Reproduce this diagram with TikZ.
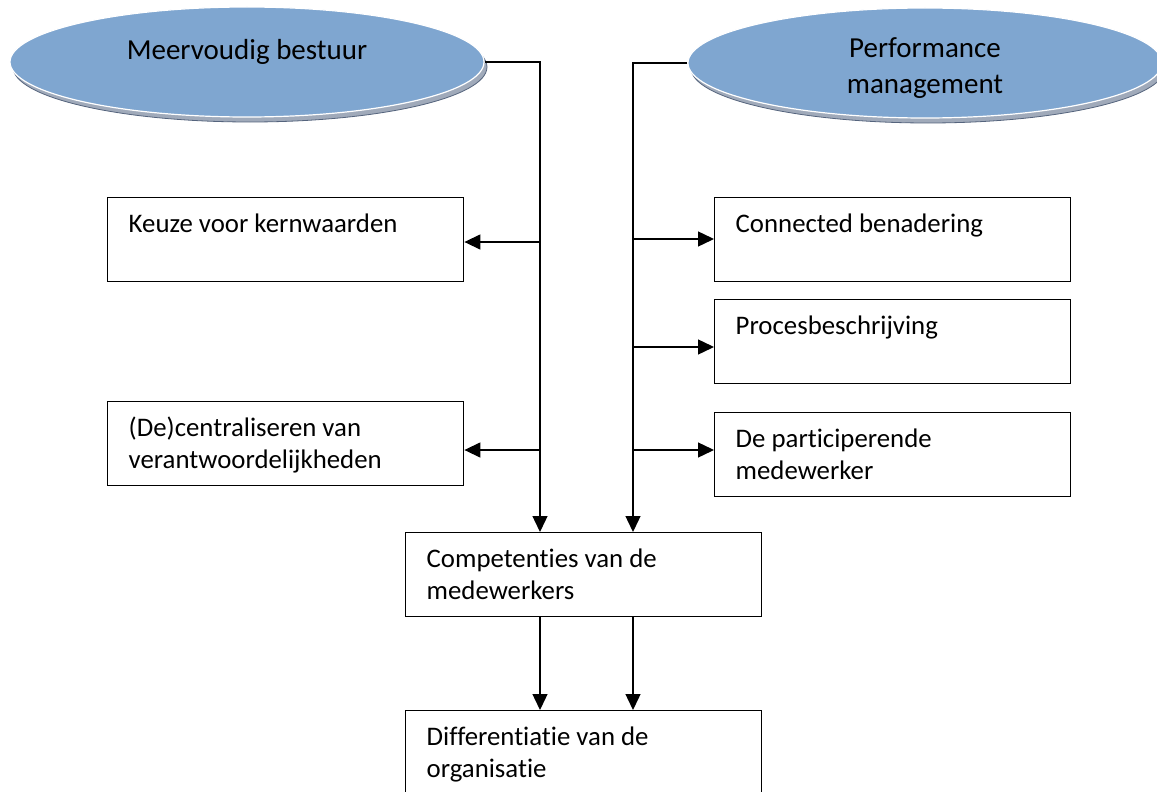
\documentclass[tikz,border=0pt]{standalone}
\usepackage{fontspec}
\setmainfont{Carlito}[Ligatures=NoCommon]
\usetikzlibrary{shapes.geometric,arrows.meta,calc}
\definecolor{ellfill}{RGB}{127,166,208}
\definecolor{ellrim}{RGB}{160,170,186}
\definecolor{ellrimdark}{RGB}{85,100,125}
\tikzset{
  blob/.style={ellipse, fill=ellfill, draw=white, line width=1.2pt,
    minimum width=474pt, minimum height=110pt, inner sep=0pt},
  rim/.style={ellipse, fill=ellrim, draw=ellrimdark, line width=0.8pt,
    minimum width=474pt, minimum height=110pt, inner sep=0pt},
  box/.style={draw, line width=1.4pt, rectangle, inner xsep=21pt, inner ysep=0pt,
    font=\fontsize{26.8}{32}\selectfont},
  arr/.style={line width=1.4pt, -{Triangle[length=16pt,width=15pt]}},
  bigtext/.style={font=\fontsize{29}{36}\selectfont, align=center, inner sep=0pt}
}
\newcommand{\boxtext}[1]{\parbox[c][84pt][t]{314pt}{\raggedright\rule{0pt}{35pt}#1}}
\begin{document}
\begin{tikzpicture}[x=1pt,y=-1pt]
\clip (0,0) rectangle (1157,792);
\fill[white] (0,0) rectangle (1157,792);

% ellipses with their offset rims
\node[rim] at (250,67) {};
\node[blob] (el1) at (247,62) {};
\node[bigtext] at (247,52) {Meervoudig bestuur};
\node[rim] at (928,68) {};
\node[blob] (el2) at (925,63) {};
\node[bigtext] at (925,68) {Performance\\management};

% boxes
\node[box, anchor=north west] (k1) at (107,197) {\boxtext{Keuze voor kernwaarden}};
\node[box, anchor=north west] (k2) at (107,401) {\boxtext{(De)centraliseren van verantwoordelijkheden}};
\node[box, anchor=north west] (r1) at (714,197) {\boxtext{Connected benadering}};
\node[box, anchor=north west] (r2) at (714,299) {\boxtext{Procesbeschrijving}};
\node[box, anchor=north west] (r3) at (714,412) {\boxtext{De participerende medewerker}};
\node[box, anchor=north west] (comp) at (405,532) {\boxtext{Competenties van de medewerkers}};
\node[box, anchor=north west] (diff) at (405,710) {\boxtext{Differentiatie van de organisatie}};

% vertical trunks
\coordinate (L) at (540,0);
\coordinate (R) at (633,0);

\draw[arr] (el1.east) -| (L |- comp.north);
\draw[arr] (el2.west) -| (R |- comp.north);

\draw[arr] (L |- 0,242) -- (k1.east |- 0,242);
\draw[arr] (L |- 0,450) -- (k2.east |- 0,450);
\draw[arr] (R |- 0,239) -- (r1.west |- 0,239);
\draw[arr] (R |- 0,347) -- (r2.west |- 0,347);
\draw[arr] (R |- 0,450) -- (r3.west |- 0,450);

\draw[arr] (L |- comp.south) -- (L |- diff.north);
\draw[arr] (R |- comp.south) -- (R |- diff.north);
\end{tikzpicture}
\end{document}
